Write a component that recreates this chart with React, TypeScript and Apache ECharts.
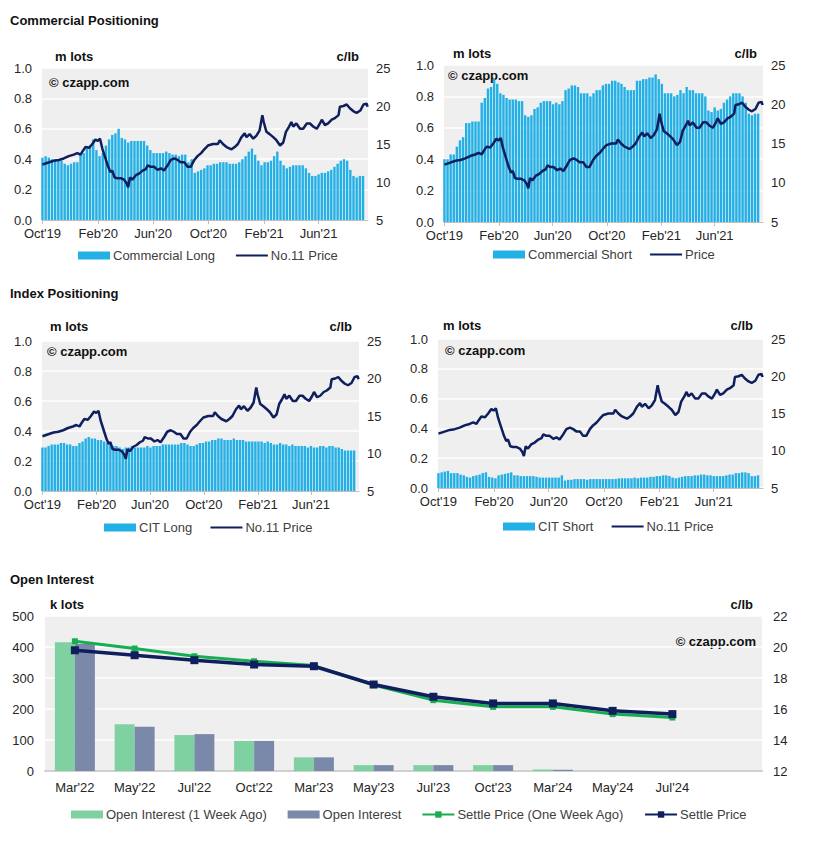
import React, { useEffect, useRef } from "react";
import * as echarts from "echarts";

// ---------- DATA ----------
const weekStart = "2019-10-01"; // first weekly report date, one bar per week

const commercialLong = [
  0.41, 0.42, 0.41, 0.40, 0.40, 0.40, 0.39, 0.37, 0.36, 0.37, 0.38, 0.38, 0.43, 0.44, 0.47, 0.49, 0.53, 0.46, 0.42, 0.44,
  0.49, 0.53, 0.56, 0.57, 0.60, 0.54, 0.53, 0.51, 0.52, 0.52, 0.52, 0.52, 0.52, 0.49, 0.46, 0.44, 0.44, 0.44, 0.44, 0.45,
  0.44, 0.43, 0.43, 0.42, 0.43, 0.43, 0.38, 0.40, 0.31, 0.32,
  0.33, 0.34, 0.36, 0.36, 0.37, 0.37, 0.38, 0.38, 0.38, 0.37, 0.37, 0.37, 0.38, 0.40, 0.42, 0.45, 0.47, 0.43, 0.39, 0.36,
  0.38, 0.38, 0.39, 0.42, 0.45, 0.39, 0.36, 0.34, 0.35, 0.36, 0.36, 0.36, 0.36, 0.34, 0.31, 0.29, 0.29, 0.30, 0.31, 0.31,
  0.32, 0.33, 0.35, 0.37, 0.39, 0.40, 0.39, 0.33, 0.29, 0.28, 0.29, 0.29,
];

const commercialShort = [
  0.40, 0.40, 0.43, 0.43, 0.48, 0.52, 0.54, 0.63, 0.63, 0.64, 0.64, 0.64, 0.76, 0.79, 0.85, 0.86, 0.91, 0.88, 0.82, 0.81,
  0.79, 0.78, 0.78, 0.78, 0.77, 0.77, 0.68, 0.67, 0.68, 0.72, 0.73, 0.76, 0.77, 0.77, 0.77, 0.75, 0.76, 0.75, 0.77, 0.84,
  0.85, 0.87, 0.87, 0.86, 0.82, 0.82, 0.82, 0.80, 0.82, 0.84, 0.84,
  0.87, 0.88, 0.88, 0.90, 0.90, 0.89, 0.88, 0.86, 0.84, 0.84, 0.84, 0.90, 0.90, 0.91, 0.91, 0.92, 0.92, 0.94, 0.91, 0.88,
  0.82, 0.82, 0.82, 0.80, 0.81, 0.84, 0.82, 0.86, 0.84, 0.84, 0.82, 0.82, 0.82, 0.80, 0.71, 0.70, 0.73, 0.71, 0.72, 0.76,
  0.78, 0.80, 0.82, 0.82, 0.82, 0.80, 0.76, 0.69, 0.68, 0.69, 0.69,
];

const citLong = [
  0.29, 0.29, 0.30, 0.31, 0.31, 0.31, 0.32, 0.32, 0.31, 0.31, 0.30, 0.30, 0.32, 0.33, 0.35, 0.36, 0.35, 0.35, 0.34, 0.34,
  0.33, 0.32, 0.31, 0.30, 0.30, 0.29, 0.28, 0.29, 0.29, 0.30, 0.29, 0.29, 0.29, 0.29, 0.30, 0.29, 0.30, 0.30, 0.30, 0.31,
  0.31, 0.31, 0.31, 0.31, 0.31, 0.32, 0.32, 0.31, 0.30, 0.30, 0.31, 0.32, 0.32, 0.33, 0.33, 0.34, 0.34, 0.35, 0.35, 0.34,
  0.34, 0.34, 0.35, 0.34, 0.34, 0.34, 0.33, 0.33, 0.33, 0.33, 0.33, 0.33, 0.32, 0.33, 0.32, 0.31, 0.31, 0.32, 0.31, 0.31,
  0.30, 0.31, 0.30, 0.30, 0.30, 0.30, 0.29, 0.30, 0.29, 0.29, 0.30, 0.30, 0.29, 0.30, 0.30, 0.29, 0.29, 0.28, 0.27, 0.27,
  0.27, 0.27,
];

const citShort = [
  0.10, 0.105, 0.11, 0.115, 0.10, 0.10, 0.10, 0.09, 0.085, 0.075, 0.07, 0.08, 0.085, 0.09, 0.10, 0.105, 0.075, 0.07, 0.065, 0.085,
  0.09, 0.095, 0.10, 0.105, 0.085, 0.085, 0.08, 0.08, 0.08, 0.08, 0.08, 0.075, 0.07, 0.07, 0.07, 0.07, 0.07, 0.07, 0.07, 0.085,
  0.05, 0.055, 0.055, 0.06, 0.06, 0.06, 0.06, 0.055, 0.06, 0.06, 0.06,
  0.06, 0.06, 0.06, 0.06, 0.06, 0.06, 0.065, 0.065, 0.065, 0.065, 0.065, 0.07, 0.065, 0.07, 0.07, 0.07, 0.075, 0.075, 0.08,
  0.08, 0.085, 0.085, 0.08, 0.07, 0.065, 0.07, 0.075, 0.08, 0.08, 0.08, 0.085, 0.085, 0.09, 0.09, 0.085, 0.085, 0.08, 0.08,
  0.08, 0.08, 0.085, 0.09, 0.09, 0.10, 0.10, 0.105, 0.105, 0.10, 0.08, 0.08, 0.085,
];

const priceDates = [
  "2019-10-01", "2019-10-11", "2019-10-26", "2019-11-06", "2019-11-17", "2019-11-28", "2019-12-09", "2019-12-17",
  "2019-12-24", "2019-12-28", "2020-01-04", "2020-01-12", "2020-01-19", "2020-01-26", "2020-01-31", "2020-02-05",
  "2020-02-10", "2020-02-17", "2020-02-23", "2020-02-28", "2020-03-03", "2020-03-08", "2020-03-14", "2020-03-22",
  "2020-03-29", "2020-04-04", "2020-04-07", "2020-04-11", "2020-04-16", "2020-04-24", "2020-05-01", "2020-05-09",
  "2020-05-16", "2020-05-20", "2020-05-27", "2020-06-03", "2020-06-11", "2020-06-18", "2020-06-25", "2020-07-03",
  "2020-07-10", "2020-07-18", "2020-07-25", "2020-08-01", "2020-08-09", "2020-08-16", "2020-08-23", "2020-08-31",
  "2020-09-07", "2020-09-15", "2020-09-22", "2020-09-30", "2020-10-11", "2020-10-22", "2020-10-26", "2020-11-02",
  "2020-11-10", "2020-11-21", "2020-11-28", "2020-12-05", "2020-12-13", "2020-12-20", "2020-12-24", "2020-12-31",
  "2021-01-08", "2021-01-15", "2021-01-22", "2021-01-28", "2021-01-31", "2021-02-06", "2021-02-13", "2021-02-21",
  "2021-02-28", "2021-03-08", "2021-03-15", "2021-03-21", "2021-03-28", "2021-04-02", "2021-04-06", "2021-04-13",
  "2021-04-21", "2021-04-28", "2021-05-06", "2021-05-13", "2021-05-20", "2021-05-28", "2021-06-04", "2021-06-08",
  "2021-06-15", "2021-06-22", "2021-06-30", "2021-07-07", "2021-07-15", "2021-07-18", "2021-07-26", "2021-08-02",
  "2021-08-09", "2021-08-17", "2021-08-24", "2021-09-01", "2021-09-08", "2021-09-15", "2021-09-17",
];
const priceValues = [
  12.3, 12.5, 12.8, 12.9, 13.1, 13.4, 13.6, 13.8,
  13.6, 14.0, 14.6, 14.5, 15.0, 15.6, 15.4, 15.7,
  14.4, 13.1, 12.0, 11.3, 11.5, 10.6, 10.5, 10.5,
  10.3, 9.8, 9.3, 10.6, 10.3, 10.9, 11.1, 11.5,
  11.7, 12.2, 12.0, 12.0, 11.6, 11.8, 11.5, 12.2,
  12.9, 13.1, 12.9, 12.6, 12.6, 12.0, 12.0, 12.9,
  13.4, 13.8, 14.3, 14.8, 15.0, 15.0, 15.5, 15.0,
  14.6, 14.3, 14.6, 15.0, 15.9, 16.4, 15.9, 16.3,
  15.7, 16.1, 16.8, 18.8, 17.9, 16.6, 16.3, 15.9,
  15.5, 14.8, 15.2, 16.6, 17.3, 17.9, 17.3, 17.7,
  17.0, 17.0, 17.7, 17.7, 17.3, 17.0, 17.7, 18.2,
  17.5, 17.7, 18.2, 18.4, 18.8, 19.9, 20.0, 20.2,
  19.7, 19.3, 19.1, 19.4, 20.2, 20.3, 19.9,
];

const timeTickDates = ["2019-10-01", "2020-02-01", "2020-06-01", "2020-10-01", "2021-02-01", "2021-06-01"];

const oiCategories = ["Mar'22", "May'22", "Jul'22", "Oct'22", "Mar'23", "May'23", "Jul'23", "Oct'23", "Mar'24", "May'24", "Jul'24", ""];
const oiWeekAgo = [415, 151, 116, 97, 44, 19, 19, 19, 5, 0, 0];
const oiNow = [410, 143, 119, 97, 44, 19, 19, 19, 4, 0, 0];
const settleWeekAgo = [20.37, 19.9, 19.4, 19.08, 18.8, 17.54, 16.57, 16.14, 16.14, 15.67, 15.45];
const settleNow = [19.79, 19.47, 19.15, 18.87, 18.76, 17.58, 16.79, 16.36, 16.36, 15.88, 15.67];

// ---------- HELPERS ----------
const FONT = "'Liberation Sans', Arial, Helvetica, sans-serif";
const TXT = "#262626";
const BAR = "#22b0e6";
const NAVY = "#0f1f5e";
const GREEN = "#17ad52";
const MONTHS = ["Jan", "Feb", "Mar", "Apr", "May", "Jun", "Jul", "Aug", "Sep", "Oct", "Nov", "Dec"];

function ts(s: string) {
  const [y, m, d] = s.split("-").map(Number);
  return Date.UTC(y, m - 1, d);
}
const DAY = 86400000;
function weekly(values: number[]) {
  const t0 = ts(weekStart);
  return values.map((v, i) => [t0 + i * 7 * DAY, v]);
}
const priceData = priceDates.map((d, i) => [ts(d), priceValues[i]]);
const tickTs = timeTickDates.map(ts);
const xMin = ts("2019-09-30");
const xMax = ts("2021-09-18");
const fmtDate = (v: number) => {
  const d = new Date(v);
  return MONTHS[d.getUTCMonth()] + "'" + String(d.getUTCFullYear()).slice(2);
};

export default function App() {
  const ref = useRef<HTMLDivElement>(null);

  useEffect(() => {
    if (!ref.current) return;
    const chart = echarts.init(ref.current, null, { renderer: "svg" });

    const grids = [
      { left: 42, top: 68, width: 326, height: 152 },
      { left: 444, top: 65, width: 319, height: 157 },
      { left: 42, top: 341, width: 317, height: 150 },
      { left: 438, top: 339, width: 325, height: 149 },
      { left: 45, top: 616, width: 717, height: 155 },
    ].map((g) => ({ ...g, show: true, backgroundColor: "#efefef", borderWidth: 0 }));

    const labelStyle = { fontSize: 13, color: TXT, fontFamily: FONT };

    const xAxes: any[] = [];
    const yAxes: any[] = [];
    for (let i = 0; i < 4; i++) {
      xAxes.push({
        type: "value",
        gridIndex: i,
        min: xMin,
        max: xMax,
        axisLine: { show: true, onZero: false, lineStyle: { color: "#bfbfbf", width: 1 } },
        axisTick: { show: true, customValues: tickTs, length: 4, lineStyle: { color: "#bfbfbf" } },
        axisLabel: { ...labelStyle, customValues: tickTs, formatter: fmtDate, margin: 7 },
        splitLine: { show: false },
      });
      yAxes.push({
        type: "value",
        gridIndex: i,
        position: "left",
        min: 0,
        max: 1,
        interval: 0.2,
        axisLine: { show: false },
        axisTick: { show: false },
        axisLabel: { ...labelStyle, margin: 10, formatter: (v: number) => v.toFixed(1) },
        splitLine: { show: true, lineStyle: { color: "#ffffff", width: 1.5 } },
      });
      yAxes.push({
        type: "value",
        gridIndex: i,
        position: "right",
        min: 5,
        max: 25,
        interval: 5,
        axisLine: { show: false },
        axisTick: { show: false },
        axisLabel: { ...labelStyle, margin: 8 },
        splitLine: { show: false },
      });
    }
    xAxes.push({
      type: "category",
      gridIndex: 4,
      data: oiCategories,
      axisLine: { show: true, lineStyle: { color: "#d0d0d0", width: 2 } },
      axisTick: { show: false },
      axisLabel: { ...labelStyle, margin: 10, interval: 0 },
    });
    yAxes.push({
      type: "value",
      gridIndex: 4,
      position: "left",
      min: 0,
      max: 500,
      interval: 100,
      axisLine: { show: false },
      axisTick: { show: false },
      axisLabel: { ...labelStyle, margin: 11 },
      splitLine: { show: true, lineStyle: { color: "#ffffff", width: 1.5 } },
    });
    yAxes.push({
      type: "value",
      gridIndex: 4,
      position: "right",
      min: 12,
      max: 22,
      interval: 2,
      axisLine: { show: false },
      axisTick: { show: false },
      axisLabel: { ...labelStyle, margin: 11 },
      splitLine: { show: false },
    });

    const barNames = ["Commercial Long", "Commercial Short", "CIT Long", "CIT Short"];
    const lineNames = ["No.11 Price", "Price", "No.11 Price", "No.11 Price"];
    const barValues = [commercialLong, commercialShort, citLong, citShort];

    const series: any[] = [];
    for (let i = 0; i < 4; i++) {
      series.push({
        name: barNames[i],
        type: "bar",
        xAxisIndex: i,
        yAxisIndex: 2 * i,
        data: weekly(barValues[i]),
        barWidth: 2.4,
        itemStyle: { color: BAR },
      });
      series.push({
        name: lineNames[i],
        type: "line",
        xAxisIndex: i,
        yAxisIndex: 2 * i + 1,
        data: priceData,
        symbol: "none",
        lineStyle: { color: NAVY, width: 2.5 },
        itemStyle: { color: NAVY },
      });
    }
    series.push({
      name: "Open Interest (1 Week Ago)",
      type: "bar",
      xAxisIndex: 4,
      yAxisIndex: 8,
      data: oiWeekAgo,
      barWidth: 20,
      barGap: "0%",
      itemStyle: { color: "#80d1a2" },
    });
    series.push({
      name: "Open Interest",
      type: "bar",
      xAxisIndex: 4,
      yAxisIndex: 8,
      data: oiNow,
      barWidth: 20,
      barGap: "0%",
      itemStyle: { color: "#7a89aa" },
    });
    series.push({
      name: "Settle Price (One Week Ago)",
      type: "line",
      xAxisIndex: 4,
      yAxisIndex: 9,
      data: settleWeekAgo,
      symbol: "rect",
      symbolSize: 6,
      lineStyle: { color: GREEN, width: 3 },
      itemStyle: { color: GREEN },
    });
    series.push({
      name: "Settle Price",
      type: "line",
      xAxisIndex: 4,
      yAxisIndex: 9,
      data: settleNow,
      symbol: "rect",
      symbolSize: 8,
      lineStyle: { color: NAVY, width: 3.5 },
      itemStyle: { color: NAVY },
    });

    const legendBase = {
      orient: "horizontal",
      padding: 0,
      itemWidth: 32,
      itemHeight: 8,
      textStyle: { fontSize: 13, color: "#404040", fontFamily: FONT, padding: [0, 0, 0, -2] },
      selectedMode: false,
    };
    const noMarker = { color: "rgba(0,0,0,0)", borderColor: "rgba(0,0,0,0)", borderWidth: 0, opacity: 0 };
    const priceItem = (name: string) => ({ name, itemStyle: noMarker });
    const legends = [
      { ...legendBase, left: 78, top: 249, itemGap: 20, data: [{ name: "Commercial Long", icon: "rect" }, priceItem("No.11 Price")] },
      { ...legendBase, left: 493, top: 248, itemGap: 17, data: [{ name: "Commercial Short", icon: "rect" }, priceItem("Price")] },
      { ...legendBase, left: 104, top: 521, itemGap: 17, data: [{ name: "CIT Long", icon: "rect" }, priceItem("No.11 Price")] },
      { ...legendBase, left: 503, top: 520, itemGap: 17, data: [{ name: "CIT Short", icon: "rect" }, priceItem("No.11 Price")] },
      {
        ...legendBase,
        left: 71,
        top: 808,
        itemGap: 20,
        data: [
          { name: "Open Interest (1 Week Ago)", icon: "rect" },
          { name: "Open Interest", icon: "rect" },
          "Settle Price (One Week Ago)",
          "Settle Price",
        ],
      },
    ];

    const boldText = (text: string, x: number, y: number, align = "left", size = 13) => ({
      type: "text",
      x,
      y,
      silent: true,
      style: { text, fill: "#111", fontSize: size, fontWeight: "bold", fontFamily: FONT, align, verticalAlign: "middle" },
    });

    const graphic = [
      boldText("Commercial Positioning", 10, 20),
      boldText("Index Positioning", 10, 293),
      boldText("Open Interest", 10, 579),
      boldText("m lots", 55, 56),
      boldText("c/lb", 359, 56, "right"),
      boldText("m lots", 453, 53),
      boldText("c/lb", 757, 53, "right"),
      boldText("m lots", 50, 326),
      boldText("c/lb", 352, 326, "right"),
      boldText("m lots", 443, 325),
      boldText("c/lb", 753, 325, "right"),
      boldText("k lots", 50, 604),
      boldText("c/lb", 753, 604, "right"),
      boldText("© czapp.com", 49, 82),
      boldText("© czapp.com", 448, 75),
      boldText("© czapp.com", 47, 351),
      boldText("© czapp.com", 445, 350),
      boldText("© czapp.com", 756, 641, "right"),
    ];

    chart.setOption({
      animation: false,
      backgroundColor: "#ffffff",
      textStyle: { fontFamily: FONT },
      grid: grids,
      xAxis: xAxes,
      yAxis: yAxes,
      series,
      legend: legends,
      graphic,
    });

    return () => chart.dispose();
  }, []);

  return (
    <div
      ref={ref}
      style={{ position: "absolute", left: 0, top: 0, width: 816, height: 852, background: "#fff" }}
    />
  );
}
